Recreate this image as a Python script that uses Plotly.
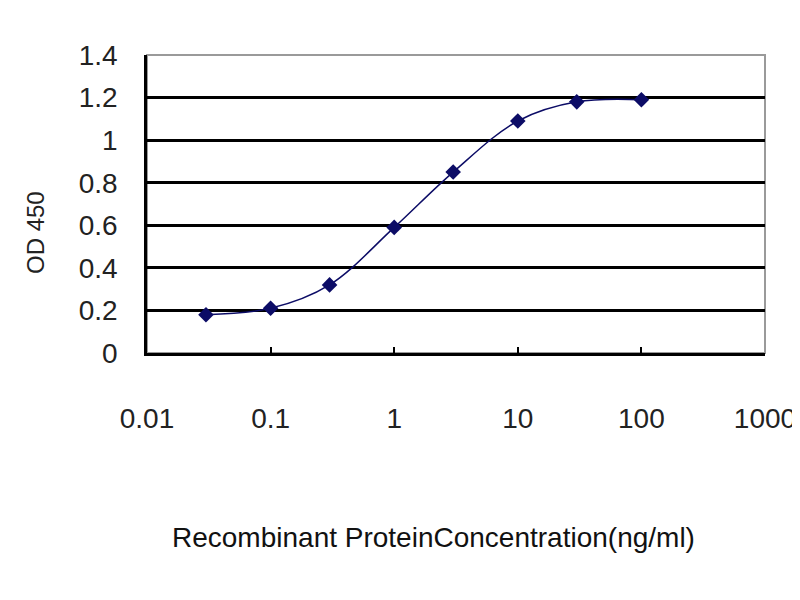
import plotly.graph_objects as go

# ELISA standard curve
concentration = [0.03, 0.1, 0.3, 1, 3, 10, 30, 100]
od450 = [0.18, 0.21, 0.32, 0.59, 0.85, 1.09, 1.18, 1.19]

x_ticks = [0.01, 0.1, 1, 10, 100, 1000]
x_tick_text = ["0.01", "0.1", "1", "10", "100", "1000"]
y_ticks = [0, 0.2, 0.4, 0.6, 0.8, 1, 1.2, 1.4]
y_tick_text = ["0", "0.2", "0.4", "0.6", "0.8", "1", "1.2", "1.4"]

font_family = "Liberation Sans, Arial, sans-serif"
navy = "#0c0c66"

fig = go.Figure()
fig.add_trace(
    go.Scatter(
        x=concentration,
        y=od450,
        mode="lines+markers",
        line=dict(color=navy, width=1.5, shape="spline"),
        marker=dict(symbol="diamond", size=12, color=navy),
        showlegend=False,
    )
)

# gray frame on top / right, like the original
fig.add_shape(
    type="rect", xref="paper", yref="paper", x0=0, x1=1, y0=0, y1=1,
    line=dict(color="#9a9a9a", width=2), layer="below",
)

fig.update_xaxes(
    type="log",
    range=[-2, 3],
    tickvals=x_ticks,
    ticktext=x_tick_text,
    ticks="inside",
    ticklen=6,
    tickwidth=2,
    tickcolor="black",
    showgrid=False,
    showline=True,
    linecolor="black",
    linewidth=2.5,
    zeroline=False,
    automargin=False,
    ticklabelstandoff=39,
    tickfont=dict(family=font_family, size=28, color="#222"),
)
fig.update_yaxes(
    range=[0, 1.4],
    tickvals=y_ticks,
    ticktext=y_tick_text,
    ticks="",
    showgrid=True,
    gridcolor="black",
    gridwidth=2.5,
    showline=True,
    linecolor="black",
    linewidth=2.5,
    zeroline=False,
    automargin=False,
    ticklabelstandoff=21,
    tickfont=dict(family=font_family, size=28, color="#222"),
)

# axis titles placed as in the original (x title sits left of the plot centre)
fig.add_annotation(
    text="OD 450",
    textangle=-90,
    xref="paper",
    yref="paper",
    x=(35 - 147) / 618,
    y=(353 - 232) / 298,
    xanchor="center",
    yanchor="middle",
    showarrow=False,
    font=dict(family=font_family, size=24, color="#222"),
)
fig.add_annotation(
    text="Recombinant ProteinConcentration(ng/ml)",
    xref="paper",
    yref="paper",
    x=(433 - 147) / 618,
    y=(353 - 537) / 298,
    xanchor="center",
    yanchor="middle",
    showarrow=False,
    font=dict(family=font_family, size=28, color="#111"),
)

fig.update_layout(
    width=800,
    height=600,
    margin=dict(l=139, r=43, t=47, b=255),
    paper_bgcolor="white",
    plot_bgcolor="white",
)

fig.write_html("out.html")
